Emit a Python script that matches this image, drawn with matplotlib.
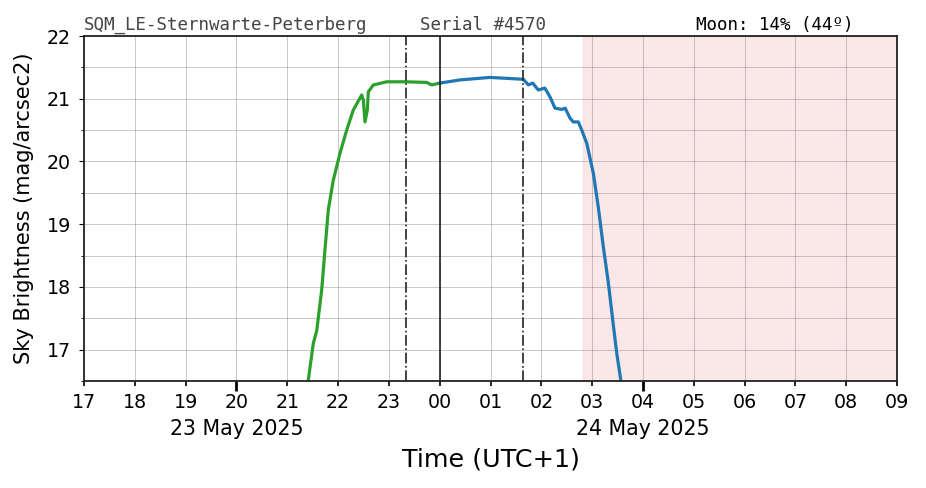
import matplotlib
matplotlib.use("Agg")
import matplotlib.pyplot as plt
import matplotlib.transforms as mtransforms
from matplotlib.ticker import MultipleLocator

# hours since 2025-05-23 17:00 (UTC+1)
dusk_t = [4.415, 4.513, 4.58, 4.678, 4.743, 4.808, 4.906, 5.038, 5.17, 5.30,
          5.465, 5.497, 5.53, 5.576, 5.595, 5.694, 5.957, 6.35, 6.745, 6.843, 7.006]
dusk_mag = [16.52, 17.10, 17.30, 17.95, 18.60, 19.23, 19.70, 20.13, 20.50, 20.82,
            21.06, 20.98, 20.63, 20.82, 21.11, 21.22, 21.27, 21.27, 21.26, 21.22, 21.25]

dawn_t = [7.006, 7.40, 7.99, 8.646, 8.745, 8.83, 8.94, 9.07, 9.17, 9.27, 9.40,
          9.47, 9.565, 9.63, 9.73, 9.795, 9.894, 10.024, 10.12, 10.22, 10.32,
          10.42, 10.485, 10.563, 10.65]
dawn_mag = [21.25, 21.30, 21.34, 21.31, 21.22, 21.25, 21.14, 21.17, 21.03, 20.85,
            20.83, 20.85, 20.69, 20.63, 20.63, 20.50, 20.29, 19.81, 19.28, 18.64,
            18.06, 17.37, 16.94, 16.52, 16.10]

astro_dusk = 6.34   # 23:20
midnight = 7.0
astro_dawn = 8.64   # 01:38
sun_up_from = 9.82

hour_labels = ["17", "18", "19", "20", "21", "22", "23", "00", "01",
               "02", "03", "04", "05", "06", "07", "08", "09"]
date_pos = [3, 11]
date_labels = ["23 May 2025", "24 May 2025"]

fig = plt.figure(figsize=(9.26, 4.88), dpi=100)
ax = fig.add_axes([0.0907, 0.2193, 0.878, 0.7069])

ax.axvspan(sun_up_from, 16, color="tab:red", alpha=0.1)
ax.plot(dusk_t, dusk_mag, color="tab:green", lw=2.3)
ax.plot(dawn_t, dawn_mag, color="tab:blue", lw=2.3)
ax.axvline(astro_dusk, color="#222222", lw=1.2, ls="-.")
ax.axvline(midnight, color="#222222", lw=1.2)
ax.axvline(astro_dawn, color="#222222", lw=1.2, ls="-.")

ax.set_xlim(0, 16)
ax.set_ylim(16.5, 22)
ax.set_xticks(range(17))
ax.set_xticklabels(hour_labels)
ax.tick_params(axis="x", labelsize=13.7, pad=5)
ax.set_yticks([17, 18, 19, 20, 21, 22])
ax.tick_params(axis="y", labelsize=13.7, pad=6)
ax.yaxis.set_minor_locator(MultipleLocator(0.5))
ax.grid(which="both", color="gray", lw=0.5, alpha=0.6)
for t in ax.xaxis.get_major_ticks():
    t.tick1line.set_markeredgewidth(1.2)
for i in date_pos:
    ax.xaxis.get_major_ticks()[i].tick1line.set_markersize(7)
    ax.xaxis.get_major_ticks()[i].tick1line.set_markeredgewidth(2)
for s in ax.spines.values():
    s.set_linewidth(1.3)
    s.set_color("#222222")

trans = mtransforms.blended_transform_factory(ax.transData, fig.transFigure)
for p, lab in zip(date_pos, date_labels):
    ax.text(p, 1 - 429 / 488, lab, transform=trans, ha="center", va="center",
            fontsize=14.8)

ax.set_ylabel("Sky Brightness (mag/arcsec2)", fontsize=15, labelpad=9)
ax.set_xlabel("Time (UTC+1)", fontsize=18.3, labelpad=26)

fig.text(0.0907, 0.930, "SQM_LE-Sternwarte-Peterberg", family="DejaVu Sans Mono",
         fontsize=12.6, color="#444444", va="bottom")
fig.text(0.4536, 0.930, "Serial #4570", family="DejaVu Sans Mono",
         fontsize=12.6, color="#444444", va="bottom")
fig.text(0.7516, 0.930, "Moon: 14% (44º)", family="DejaVu Sans Mono",
         fontsize=12.6, color="black", va="bottom")

fig.savefig("out.png", dpi=100)
